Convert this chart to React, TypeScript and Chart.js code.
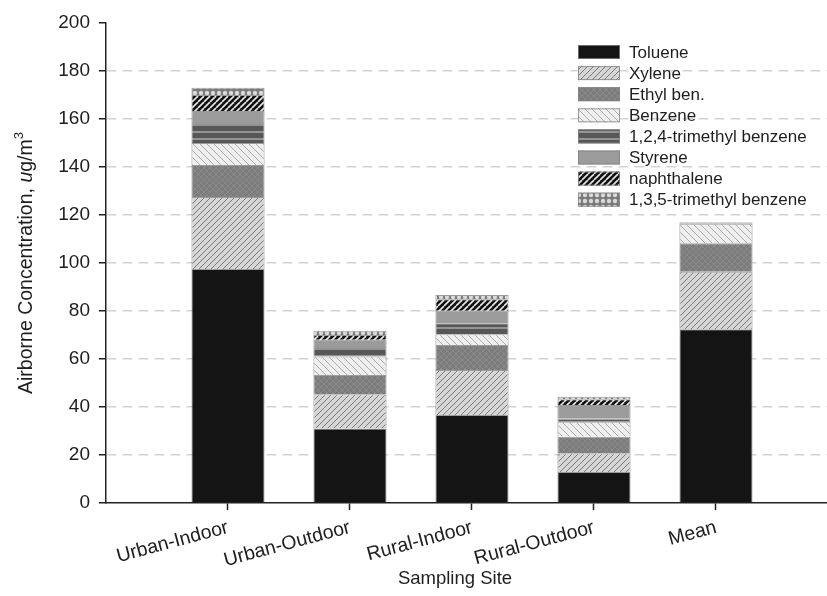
import React, { useEffect, useRef } from 'react';
import { Chart, registerables } from 'chart.js';

Chart.register(...registerables);

const categories = ['Urban-Indoor', 'Urban-Outdoor', 'Rural-Indoor', 'Rural-Outdoor', 'Mean'];
const seriesNames = [
  'Toluene',
  'Xylene',
  'Ethyl ben.',
  'Benzene',
  '1,2,4-trimethyl benzene',
  'Styrene',
  'naphthalene',
  '1,3,5-trimethyl benzene',
];
const toluene = [97.5, 31.0, 36.7, 12.9, 72.4];
const xylene = [30.0, 14.3, 18.7, 7.8, 24.0];
const ethylBenzene = [13.3, 8.0, 10.4, 6.9, 11.8];
const benzene = [9.2, 7.7, 4.5, 6.3, 8.2];
const trimethyl124 = [8.3, 4.0, 4.6, 1.4, 0.3];
const styrene = [5.0, 3.0, 5.2, 5.5, 0.2];
const naphthalene = [6.7, 2.0, 4.8, 2.4, 0.1];
const trimethyl135 = [3.0, 1.8, 1.8, 1.1, 0.1];
const yMin = 0;
const yMax = 200;
const yStep = 20;

const FONT = "'Liberation Sans', Arial, Helvetica, sans-serif";
const TEXT = '#1e1e1e';

function tile(w: number, h: number, draw: (c: CanvasRenderingContext2D) => void): CanvasPattern | string {
  const cv = document.createElement('canvas');
  cv.width = w;
  cv.height = h;
  const c = cv.getContext('2d')!;
  draw(c);
  const p = c.createPattern(cv, 'repeat');
  return p || '#888';
}

function diag(c: CanvasRenderingContext2D, s: number, dir: 1 | -1, color: string, width: number) {
  c.strokeStyle = color;
  c.lineWidth = width;
  for (let k = -1; k <= 1; k++) {
    c.beginPath();
    if (dir === 1) {
      c.moveTo(k * s, s);
      c.lineTo(k * s + s, 0);
    } else {
      c.moveTo(k * s, 0);
      c.lineTo(k * s + s, s);
    }
    c.stroke();
  }
}

function makePatterns() {
  const tol = '#141414';
  const xyl = tile(6, 6, (c) => {
    c.fillStyle = '#d6d6d6';
    c.fillRect(0, 0, 6, 6);
    diag(c, 6, 1, '#7a7a7a', 1);
  });
  const eth = tile(6, 6, (c) => {
    c.fillStyle = '#7c7c7c';
    c.fillRect(0, 0, 6, 6);
    diag(c, 6, 1, '#8a8a8a', 1);
    diag(c, 6, -1, '#8a8a8a', 1);
  });
  const ben = tile(7, 7, (c) => {
    c.fillStyle = '#efefef';
    c.fillRect(0, 0, 7, 7);
    diag(c, 7, -1, '#a9a9a9', 1);
  });
  const tri124 = tile(4, 7, (c) => {
    c.fillStyle = '#575757';
    c.fillRect(0, 0, 4, 7);
    c.fillStyle = '#939393';
    c.fillRect(0, 5, 4, 2);
  });
  const sty = '#9b9b9b';
  const nap = tile(6, 6, (c) => {
    c.fillStyle = '#111111';
    c.fillRect(0, 0, 6, 6);
    diag(c, 6, 1, '#e8e8e8', 1.6);
  });
  const tri135 = tile(6, 6, (c) => {
    c.fillStyle = '#7a7a7a';
    c.fillRect(0, 0, 6, 6);
    c.fillStyle = '#d9d9d9';
    c.beginPath();
    c.arc(3, 3, 2.2, 0, Math.PI * 2);
    c.fill();
  });
  return [tol, xyl, eth, ben, tri124, sty, nap, tri135];
}

export default function App() {
  const ref = useRef<HTMLCanvasElement | null>(null);

  useEffect(() => {
    document.body.style.margin = '0';
    const canvas = ref.current;
    if (!canvas) return;
    const patterns = makePatterns();
    const series = [toluene, xylene, ethylBenzene, benzene, trimethyl124, styrene, naphthalene, trimethyl135];

    const datasets = series.map((vals, i) => ({
      label: seriesNames[i],
      data: vals.map((v, j) => ({ x: j + 1, y: v })),
      backgroundColor: patterns[i] as any,
      borderColor: 'rgba(130,130,130,0.8)',
      borderWidth: 1,
      barPercentage: 0.6,
      categoryPercentage: 1,
    }));

    const annotate = {
      id: 'annotate',
      afterDraw(chart: any) {
        const ctx: CanvasRenderingContext2D = chart.ctx;
        const area = chart.chartArea;
        ctx.save();
        // Legend
        const boxX = 578;
        const boxW = 42;
        const boxH = 14;
        const textX = 629;
        const y0 = 52;
        const dy = 21.1;
        ctx.font = `17px ${FONT}`;
        ctx.textBaseline = 'middle';
        ctx.textAlign = 'left';
        seriesNames.forEach((name, i) => {
          const cy = y0 + i * dy;
          ctx.fillStyle = patterns[i] as any;
          ctx.fillRect(boxX, cy - boxH / 2, boxW, boxH);
          ctx.strokeStyle = 'rgba(130,130,130,0.8)';
          ctx.lineWidth = 1;
          ctx.strokeRect(boxX + 0.5, cy - boxH / 2 + 0.5, boxW - 1, boxH - 1);
          ctx.fillStyle = TEXT;
          ctx.fillText(name, textX, cy + 1);
        });

        // X title
        ctx.font = `18.5px ${FONT}`;
        ctx.textAlign = 'center';
        ctx.fillStyle = TEXT;
        ctx.fillText('Sampling Site', 455, 579);

        // Y title with italic u and superscript 3
        const parts = [
          { t: 'Airborne Concentration, ', f: `19.5px ${FONT}`, dy: 0 },
          { t: 'u', f: `italic 19.5px ${FONT}`, dy: 0 },
          { t: 'g/m', f: `19.5px ${FONT}`, dy: 0 },
          { t: '3', f: `13px ${FONT}`, dy: -8 },
        ];
        let total = 0;
        const widths = parts.map((p) => {
          ctx.font = p.f;
          const w = ctx.measureText(p.t).width;
          total += w;
          return w;
        });
        ctx.translate(27, (area.top + area.bottom) / 2);
        ctx.rotate(-Math.PI / 2);
        ctx.textAlign = 'left';
        ctx.textBaseline = 'middle';
        let x = -total / 2;
        parts.forEach((p, i) => {
          ctx.font = p.f;
          ctx.fillText(p.t, x, p.dy);
          x += widths[i];
        });
        ctx.restore();
      },
    };

    const chart = new Chart(canvas, {
      type: 'bar',
      data: { datasets } as any,
      options: {
        responsive: false,
        animation: false,
        devicePixelRatio: 1,
        layout: { padding: { top: 23, right: 0, left: 0, bottom: 0 } },
        plugins: {
          legend: { display: false },
          tooltip: { enabled: false },
        },
        scales: {
          x: {
            type: 'linear',
            min: 0,
            max: 5.91,
            offset: false,
            stacked: true,
            afterBuildTicks: (s: any) => {
              s.ticks = categories.map((_, i) => ({ value: i + 1 }));
            },
            afterFit: (s: any) => {
              s.height = 93;
            },
            ticks: {
              autoSkip: false,
              minRotation: 15,
              maxRotation: 15,
              padding: 6,
              color: TEXT,
              font: { family: FONT, size: 19.5 },
              callback: (_v: any, i: number) => categories[i],
            },
            grid: {
              offset: false,
              drawOnChartArea: false,
              drawTicks: true,
              tickLength: 7,
              tickColor: '#222',
              tickWidth: 1.5,
            },
            border: { color: '#222', width: 1.5 },
          },
          y: {
            min: yMin,
            max: yMax,
            stacked: true,
            afterFit: (s: any) => {
              s.width = 106;
            },
            ticks: {
              stepSize: yStep,
              padding: 9,
              color: TEXT,
              font: { family: FONT, size: 19 },
            },
            grid: {
              color: (c: any) =>
                c.tick && (c.tick.value === yMin || c.tick.value === yMax) ? 'rgba(0,0,0,0)' : '#d4d4d4',
              lineWidth: 1.5,
              drawTicks: true,
              tickLength: 7,
              tickColor: '#222',
              tickWidth: 1.5,
              tickBorderDash: [],
            },
            border: { color: '#222', width: 1.5, dash: [10, 6] },
          },
        },
      } as any,
      plugins: [annotate],
    });

    return () => {
      chart.destroy();
    };
  }, []);

  return (
    <div style={{ width: 827, height: 596 }}>
      <canvas ref={ref} width={827} height={596} style={{ display: 'block' }} />
    </div>
  );
}
